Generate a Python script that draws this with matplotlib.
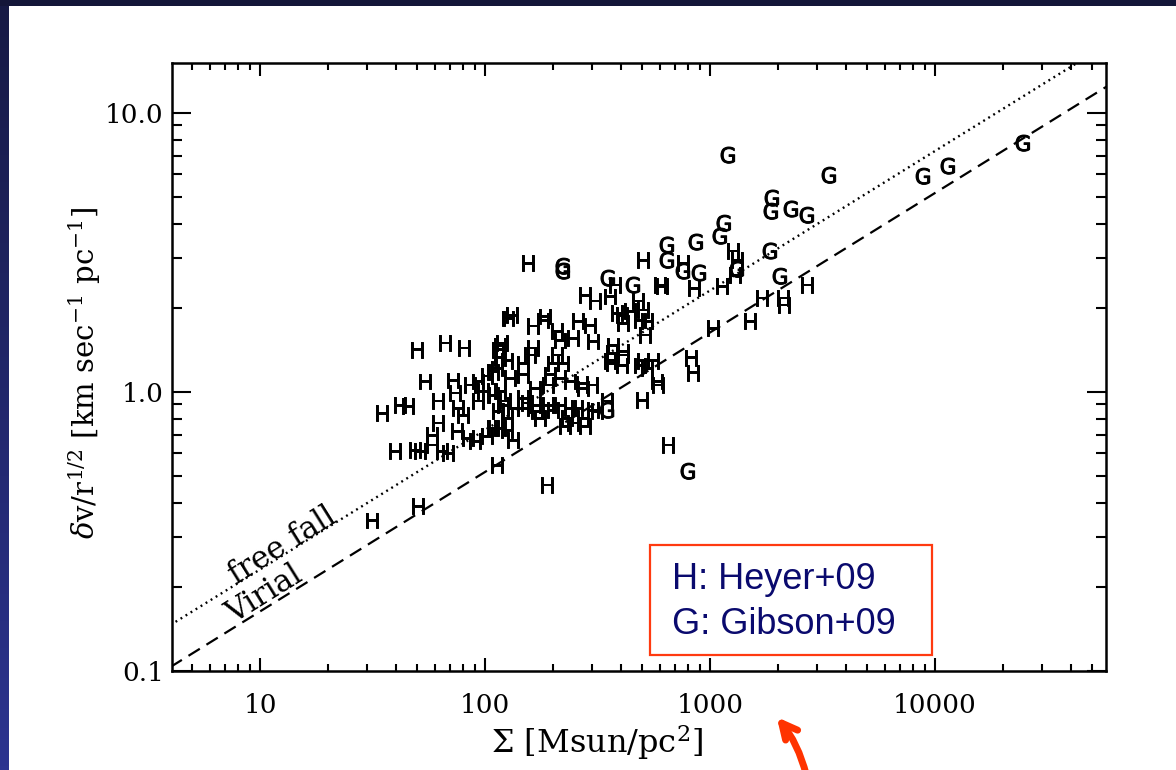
import numpy as np
import matplotlib.pyplot as plt
import matplotlib.patheffects as pe
from matplotlib.ticker import FixedLocator, FixedFormatter, LogLocator, NullFormatter
from matplotlib.patches import Rectangle, FancyArrowPatch

plt.rcParams['font.family'] = 'DejaVu Serif'
plt.rcParams['mathtext.fontset'] = 'dejavuserif'

# Heyer+09 clouds (H): surface density [Msun/pc^2] and dv/r^1/2 [km/s pc^-1/2]
h_sigma = [155, 504, 378, 599, 278, 308, 359, 132, 386, 441, 504, 525, 411, 163,
           185, 181, 209, 259, 293, 246, 302, 215, 163, 117, 158, 209, 201, 222,
           367, 411, 367, 406, 504, 525, 581, 499, 147, 117, 109, 147, 129, 195,
           191, 215, 239, 270, 299, 349, 302, 117, 120, 147, 167, 191, 215, 239,
           256, 273, 231, 246, 114, 125, 117, 176, 170, 167, 273, 154, 201, 227,
           278, 315, 587, 651, 189, 49.9, 66.4, 80.7, 114, 119, 127, 54.1, 72.1,
           85.8, 93.1, 102, 113, 125, 34.8, 41.9, 45.5, 61.8, 73.6, 75.9, 79.8,
           93.1, 98.0, 109, 123, 133, 61.8, 58.1, 75.1, 84.0, 90.3, 102, 109, 125,
           133, 39.8, 48.9, 51.4, 58.1, 64.4, 68.5, 113, 50.4, 31.5, 147, 479,
           406, 489, 514, 370, 411, 359, 489, 558, 612, 759, 849, 1265, 1318,
           1291, 1130, 2698, 1703, 2111, 2133, 1506, 1031, 824, 840]
h_dv = [2.84, 2.91, 2.37, 2.37, 2.18, 2.08, 2.16, 1.85, 1.88, 1.91, 1.93, 1.76, 1.73, 1.69,
        1.83, 1.77, 1.62, 1.76, 1.70, 1.53, 1.49, 1.50, 1.41, 1.44, 1.33, 1.33, 1.24, 1.24,
        1.35, 1.33, 1.24, 1.22, 1.27, 1.19, 1.07, 0.917, 1.24, 1.30, 1.16, 1.13, 1.10, 1.13,
        1.04, 1.10, 1.07, 1.05, 1.04, 0.910, 0.844, 0.988, 0.880, 0.932, 0.880, 0.880, 0.880, 0.858,
        0.858, 0.790, 0.790, 0.759, 0.837, 0.790, 0.728, 0.790, 0.837, 1.01, 1.01, 0.895, 0.844, 0.740,
        0.740, 0.837, 1.04, 0.633, 0.455, 1.39, 1.47, 1.41, 1.39, 1.47, 1.80, 1.07, 1.08,
        1.04, 1.07, 1.12, 1.19, 1.27, 0.824, 0.880, 0.873, 0.910, 0.972, 0.858, 0.810,
        0.910, 0.988, 0.956, 0.910, 0.858, 0.759, 0.687, 0.710, 0.670, 0.654, 0.681, 0.728, 0.716,
        0.659, 0.602, 0.607, 0.602, 0.633, 0.602, 0.592, 0.536, 0.382, 0.340, 0.858, 2.08,
        1.85, 1.77, 1.57, 1.44, 1.37, 1.27, 1.22, 1.27, 2.35, 2.84, 2.31, 3.14, 2.91,
        2.57, 2.35, 2.37, 2.13, 2.13, 2.01, 1.76, 1.66, 1.30, 1.15]

# Gibson+09 clumps (G)
g_sigma = [1202, 3380, 8850, 11420, 24600, 1886, 1866, 2291, 2698, 1153, 1107, 644, 644,
           866, 1848, 759, 894, 2047, 222, 222, 352, 455, 349, 798, 1318]
g_dv = [6.93, 5.87, 5.82, 6.33, 7.65, 4.86, 4.36, 4.44, 4.22, 3.95, 3.55, 3.30, 2.91,
        3.38, 3.14, 2.66, 2.62, 2.55, 2.77, 2.66, 2.51, 2.37, 0.844, 0.510, 2.70]

x_ticks = [10, 100, 1000, 10000]
x_labels = ['10', '100', '1000', '10000']
y_ticks = [0.1, 1.0, 10.0]
y_labels = ['0.1', '1.0', '10.0']

virial_coef = 0.0515                  # dv/r^1/2 = c * Sigma^1/2
freefall_coef = virial_coef * np.sqrt(2)

W, H = 1176, 770
fig = plt.figure(figsize=(W / 100, H / 100), dpi=100)
fig.patch.set_facecolor('white')

# slide frame: dark top band and blue gradient strip on the left
fig.patches.append(Rectangle((0, 1 - 6 / H), 1, 6 / H, transform=fig.transFigure,
                             facecolor='#141639', edgecolor='none', zorder=0))
strip = fig.add_axes([0, 0, 9 / W, 1 - 6 / H])
strip.imshow(np.linspace(0, 1, 200).reshape(-1, 1), aspect='auto',
             cmap=plt.matplotlib.colors.LinearSegmentedColormap.from_list(
                 'slide', ['#171a45', '#2c3490']))
strip.axis('off')

ax = fig.add_axes([172 / W, 1 - 671 / H, 934 / W, 608 / H])
ax.set_xscale('log')
ax.set_yscale('log')
ax.set_xlim(4.06, 57500)
ax.set_ylim(0.0996, 15.05)

sig = np.logspace(np.log10(4.0), np.log10(60000), 100)
ax.plot(sig, virial_coef * np.sqrt(sig), color='k', lw=1.6, dashes=(6, 3.5))
ax.plot(sig, freefall_coef * np.sqrt(sig), color='k', lw=1.7, linestyle=(0, (0.8, 1.7)))

thick = [pe.withStroke(linewidth=0.7, foreground='k')]
for s, v in zip(h_sigma, h_dv):
    ax.text(s, v, 'H', ha='center', va='center', fontsize=15.5, family='DejaVu Sans',
            clip_on=True, path_effects=thick)
for s, v in zip(g_sigma, g_dv):
    ax.text(s, v, 'G', ha='center', va='center', fontsize=15.5, family='DejaVu Sans',
            clip_on=True, path_effects=thick)

ax.text(12.6, 0.279, 'free fall', fontsize=22, rotation=32, ha='center', va='center',
        rotation_mode='anchor')
ax.text(10.4, 0.187, 'Virial', fontsize=22, rotation=32, ha='center', va='center',
        rotation_mode='anchor')

ax.xaxis.set_major_locator(FixedLocator(x_ticks))
ax.xaxis.set_major_formatter(FixedFormatter(x_labels))
ax.yaxis.set_major_locator(FixedLocator(y_ticks))
ax.yaxis.set_major_formatter(FixedFormatter(y_labels))
ax.xaxis.set_minor_locator(LogLocator(base=10, subs=np.arange(2, 10)))
ax.yaxis.set_minor_locator(LogLocator(base=10, subs=np.arange(2, 10)))
ax.xaxis.set_minor_formatter(NullFormatter())
ax.yaxis.set_minor_formatter(NullFormatter())

ax.tick_params(which='both', direction='in', top=True, right=True, width=1.5,
               labelsize=19)
ax.tick_params(axis='x', which='major', length=9.5, pad=16)
ax.tick_params(axis='x', which='minor', length=5)
ax.tick_params(axis='y', which='major', length=14, pad=6)
ax.tick_params(axis='y', which='minor', length=7)
for sp in ax.spines.values():
    sp.set_linewidth(1.8)

ax.set_xlabel(r'$\Sigma$ [Msun/pc$^2$]', fontsize=23)
ax.xaxis.set_label_coords(0.455, -0.086)
ax.set_ylabel(r'$\delta$v/r$^{1/2}$ [km sec$^{-1}$ pc$^{-1}$]', fontsize=21)
ax.yaxis.set_label_coords(-0.074, 0.49)

# legend box
ax.add_patch(Rectangle((0.5118, 0.0263), 0.3019, 0.1809, transform=ax.transAxes,
                       facecolor='white', edgecolor='#ff3a10', lw=1.6, zorder=5))
ax.text(0.535, 0.1497, 'H: Heyer+09', transform=ax.transAxes, fontsize=26,
        family='Liberation Sans', color='#0a0a6e', va='center', zorder=6)
ax.text(0.535, 0.0757, 'G: Gibson+09', transform=ax.transAxes, fontsize=26,
        family='Liberation Sans', color='#0a0a6e', va='center', zorder=6)

# arrow pointing at the axis label
fig.add_artist(FancyArrowPatch((807 / W, -0.01), (775 / W, 1 - 715 / H),
                               transform=fig.transFigure, arrowstyle='->',
                               connectionstyle='arc3,rad=0.12', color='#ff3300',
                               lw=5, mutation_scale=28))

fig.savefig('out.png', dpi=100)
